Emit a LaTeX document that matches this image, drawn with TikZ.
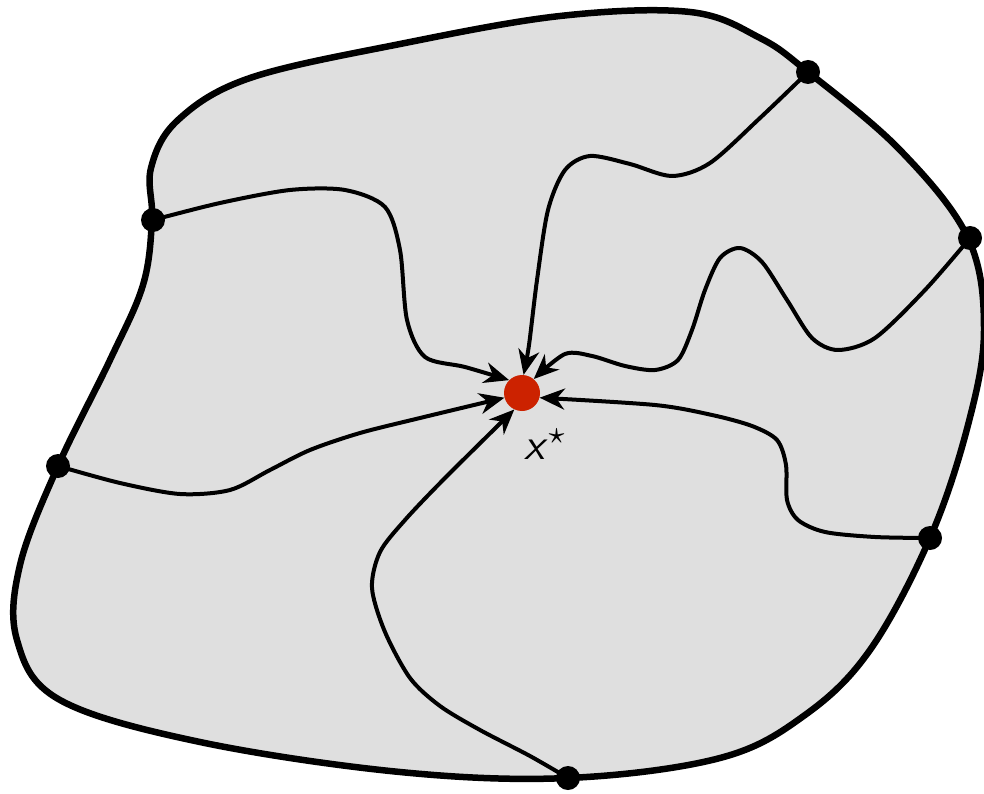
\documentclass[tikz,border=0pt]{standalone}
\usepackage{graphicx}
\usetikzlibrary{arrows.meta}
\definecolor{regionfill}{RGB}{223,223,223}
\definecolor{optred}{RGB}{204,34,0}
\tikzset{
  boundary/.style={line width=6.5pt, fill=regionfill, line join=round},
  flow/.style={line width=4pt, line cap=round, line join=round,
    -{Stealth[length=25pt,width=21pt,inset=8pt]}},
  bdot/.style={circle, fill=black, inner sep=0pt, minimum size=24pt},
  optdot/.style={circle, fill=optred, inner sep=0pt, minimum size=36pt},
}
\begin{document}
\begin{tikzpicture}[x=1pt,y=-1pt]
\useasboundingbox (0,0) rectangle (984,794);
\draw[boundary] plot[smooth cycle, tension=0.6] coordinates {
 (152,220) (151,168) (178,120) (250,78) (400,44) (560,16) (690,12) (760,38)
 (808,72) (900,150) (968,238) (984,330) (968,425) (930,538) (870,650)
 (805,715) (720,758) (568,778) (400,772) (200,742) (60,700) (17,640)
 (20,565) (58,466) (110,360) (143,285)};

\node[optdot] (x) at (522,393) {};
\node[bdot] (d1) at (153,220) {};
\node[bdot] (d2) at (808,72) {};
\node[bdot] (d3) at (970,238) {};
\node[bdot] (d4) at (930,538) {};
\node[bdot] (d5) at (58,466) {};
\node[bdot] (d6) at (568,778) {};

\draw[flow] plot[smooth] coordinates {(d1.center) (220,203) (290,190) (345,190) (385,207) (400,250) (407,320) (425,357) (465,367) (x.135)};
\draw[flow] plot[smooth] coordinates {(d2.center) (760,118) (710,163) (672,176) (630,164) (590,156) (565,170) (548,210) (537,280) (529,345) (x.85)};
\draw[flow] plot[smooth] coordinates {(d3.center) (925,290) (875,338) (838,350) (812,338) (787,300) (762,262) (740,248) (720,258) (705,290) (692,330) (678,360) (655,370) (625,366) (592,356) (565,354) (x.50)};
\draw[flow] plot[smooth] coordinates {(d4.center) (875,537) (825,532) (798,520) (787,500) (786,465) (777,440) (752,426) (712,415) (655,405) (x.-15)};
\draw[flow] plot[smooth] coordinates {(d5.center) (120,483) (180,494) (230,490) (270,470) (310,450) (360,433) (420,418) (x.195)};
\draw[flow] plot[smooth] coordinates {(d6.center) (530,756) (480,730) (440,706) (410,678) (385,632) (372,588) (380,552) (405,520) (445,478) (x.245)};

\node[inner sep=0pt] (lbl) at (546,444) {\scalebox{4.4}{\textsf{\textit{x}}$^{\star}$}};
\end{tikzpicture}
\end{document}
